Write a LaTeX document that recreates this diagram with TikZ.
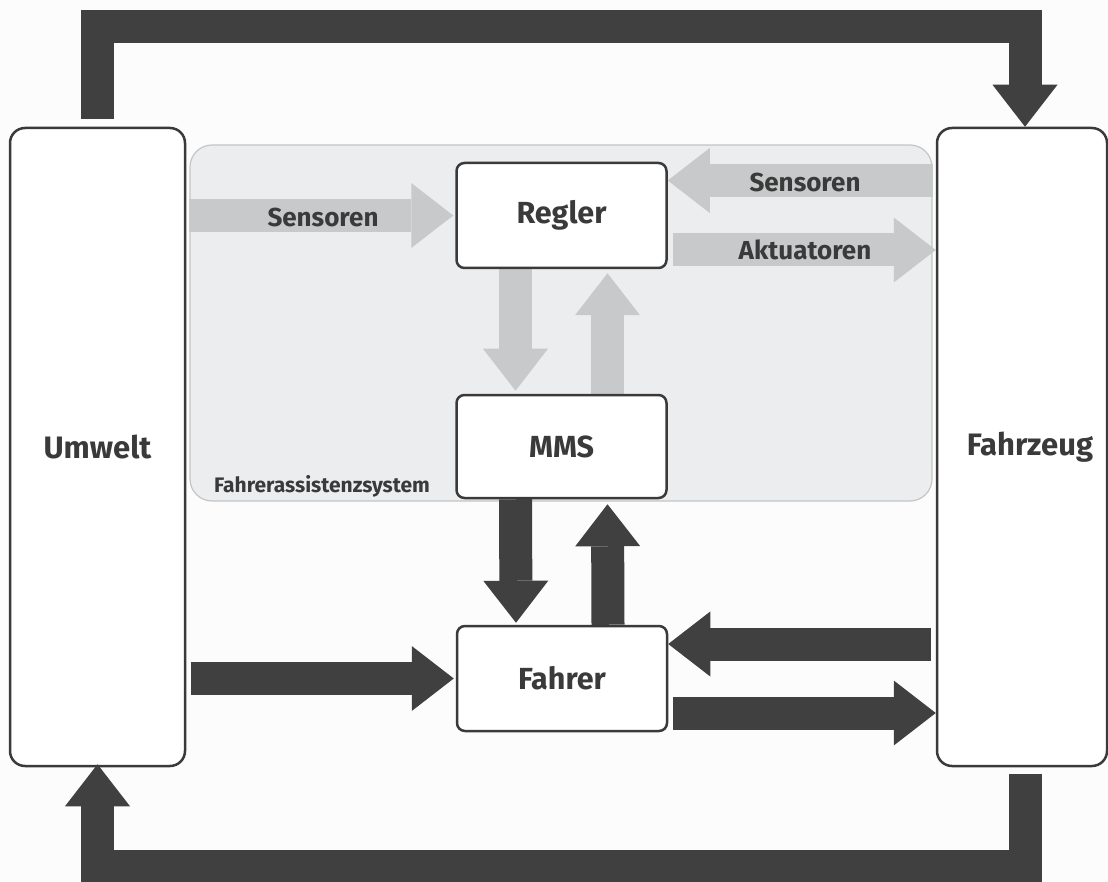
\documentclass[tikz,border=0pt]{standalone}
\usepackage{fontspec}
\setmainfont{Fira Sans}
\usetikzlibrary{arrows.meta}
\pgfdeclarelayer{back}
\pgfsetlayers{back,main}
\definecolor{dk}{HTML}{404040}
\definecolor{lg}{HTML}{C8C9CA}
\definecolor{regfill}{HTML}{ECEDEE}
\definecolor{regline}{HTML}{C4C5C6}
\definecolor{txt}{HTML}{3A3A3A}
\definecolor{bg}{HTML}{FCFCFC}
\begin{document}
\begin{tikzpicture}[x=1pt,y=-1pt,
  box/.style={draw=txt, line width=2.5pt, fill=white, rounded corners=8pt, inner sep=0pt,
    font=\fontsize{30.5}{36}\selectfont\bfseries, text=txt},
  bigbox/.style={box, rounded corners=15pt, font=\fontsize{31}{37}\selectfont\bfseries},
  regionbox/.style={draw=regline, line width=1.2pt, fill=regfill, rounded corners=22pt, inner sep=0pt},
  fat/.style={line width=33pt, -{Triangle[length=42pt,width=65pt,line width=0pt]}},
  dkarrow/.style={fat, draw=dk},
  ltarrow/.style={fat, draw=lg},
  lbl/.style={font=\fontsize{26}{30}\selectfont\bfseries, text=txt, inner sep=0pt},
  small/.style={font=\fontsize{21}{24}\selectfont\bfseries, text=txt, inner sep=0pt}
]
\useasboundingbox (0,0) rectangle (1108,882);
\begin{pgfonlayer}{back}
  \fill[bg] (0,0) rectangle (1108,882);
  \node[regionbox, minimum width=742pt, minimum height=356pt] (fas) at (561,323) {};
\end{pgfonlayer}
\node[small, anchor=base west] (faslbl) at (214,492) {Fahrerassistenzsystem};

% boxes
\node[bigbox, minimum width=175pt, minimum height=638pt] (umwelt) at (97.5,447) {Umwelt};
\node[bigbox, minimum width=170pt, minimum height=638pt] (fahrzeug) at (1022,447) {\hspace{16pt}Fahrzeug};
\node[box, minimum width=210pt, minimum height=105pt] (regler) at (561.5,215.5) {Regler};
\node[box, minimum width=210pt, minimum height=103pt] (mms) at (561.5,446.5) {MMS};
\node[box, minimum width=210pt, minimum height=105pt] (fahrer) at (562,678.5) {Fahrer};

% light arrows (behind the boxes)
\begin{pgfonlayer}{back}
  \draw[ltarrow] (fas.west |- regler.west) -- ([xshift=-2pt]regler.west);
  \draw[ltarrow] ([yshift=35pt]fas.east |- regler.east) -- ([yshift=35pt]regler.east);
  \draw[ltarrow] ([xshift=5pt,yshift=-34.5pt]regler.east) -- ([yshift=-34.5pt]fahrzeug.west |- regler.east);
  \draw[ltarrow] ([xshift=-46pt]regler.south) -- ([xshift=-46pt,yshift=3pt]mms.north);
  \draw[ltarrow] ([xshift=46pt]mms.north) -- ([xshift=46pt,yshift=-4pt]regler.south);
\end{pgfonlayer}

% light labels
\node[lbl] (s1) at (323,217) {Sensoren};
\node[lbl] (s2) at (805,182) {Sensoren};
\node[lbl] (ak) at (805,250) {Aktuatoren};

% dark arrows
\coordinate (topy) at (0,26.5);
\coordinate (boty) at (0,866);
\draw[dkarrow] ([yshift=8pt]umwelt.north) -- (umwelt.north |- topy) -| ([xshift=3pt]fahrzeug.north);
\draw[dkarrow] ([xshift=3pt,yshift=-7pt]fahrzeug.south) -- ([xshift=3pt]fahrzeug.south |- boty) -| ([yshift=3pt]umwelt.south);
\draw[dkarrow] ([xshift=-46pt]mms.south) -- ([xshift=-46pt,yshift=2pt]fahrer.north);
\draw[dkarrow] ([xshift=46pt]fahrer.north) -- ([xshift=46pt,yshift=-5pt]mms.south);
\draw[dkarrow] ([xshift=5pt]umwelt.east |- fahrer.west) -- ([xshift=-2pt]fahrer.west);
\draw[dkarrow] ([xshift=-5pt,yshift=34.5pt]fahrzeug.west |- fahrer.east) -- ([yshift=34.5pt]fahrer.east);
\draw[dkarrow] ([xshift=5pt,yshift=-34.5pt]fahrer.east) -- ([yshift=-34.5pt]fahrzeug.west |- fahrer.east);
\end{tikzpicture}
\end{document}
